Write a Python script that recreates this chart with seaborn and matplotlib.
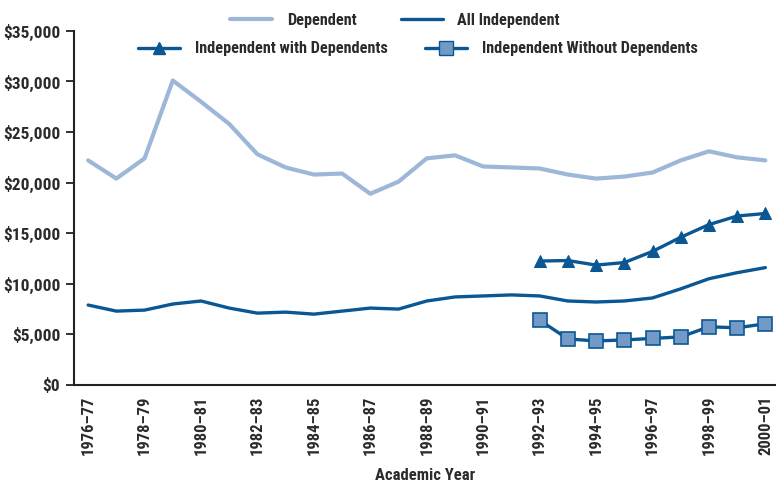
import pandas as pd
import numpy as np
import matplotlib.pyplot as plt
import matplotlib.font_manager as fm
import seaborn as sns
from matplotlib.lines import Line2D
from matplotlib.ticker import FuncFormatter, FixedLocator

# academic years on the x axis
years = ["1976–77", "1977–78", "1978–79", "1979–80", "1980–81", "1981–82",
         "1982–83", "1983–84", "1984–85", "1985–86", "1986–87", "1987–88",
         "1988–89", "1989–90", "1990–91", "1991–92", "1992–93", "1993–94",
         "1994–95", "1995–96", "1996–97", "1997–98", "1998–99", "1999–2000",
         "2000–01"]

# values (dollars)
dependent = [22200, 20400, 22400, 30100, 28000, 25800, 22800, 21500, 20800,
             20900, 18900, 20100, 22400, 22700, 21600, 21500, 21400, 20800,
             20400, 20600, 21000, 22200, 23100, 22500, 22200]
all_independent = [7900, 7300, 7400, 8000, 8300, 7600, 7100, 7200, 7000,
                   7300, 7600, 7500, 8300, 8700, 8800, 8900, 8800, 8300,
                   8200, 8300, 8600, 9500, 10500, 11100, 11600]
with_dependents = [12250, 12300, 11850, 12100, 13200, 14600, 15850, 16700, 16950]
without_dependents = [6400, 4550, 4350, 4450, 4600, 4750, 5750, 5650, 6050]

idx = list(range(len(years)))
idx_late = idx[16:]

dark = "#0b5793"
light = "#9db7d8"
sq_fill = "#7399c6"
txt = "#2b2b2b"

sns.set_style("white")

# a narrow face is closest to the original; fall back to Liberation Sans
available = {f.name for f in fm.fontManager.ttflist}
narrow = next((n for n in ["Liberation Sans Narrow", "Roboto Condensed",
                           "DejaVu Sans Condensed", "Open Sans Condensed"]
               if n in available), None)
if narrow:
    plt.rcParams["font.family"] = [narrow, "DejaVu Sans"]
    plt.rcParams["font.weight"] = "bold"
    plt.rcParams["axes.labelweight"] = "bold"
    fs = 12
else:
    plt.rcParams["font.family"] = ["Liberation Sans", "DejaVu Sans"]
    fs = 11
plt.rcParams["text.color"] = txt

fig = plt.figure(figsize=(7.76, 4.83), dpi=100)
ax = fig.add_axes([0.0954, 0.203, 0.904, 0.733])

sns.lineplot(x=idx, y=dependent, ax=ax, color=light, linewidth=3.0,
             solid_capstyle="round", solid_joinstyle="round")
sns.lineplot(x=idx, y=all_independent, ax=ax, color=dark, linewidth=2.4,
             solid_capstyle="round", solid_joinstyle="round")
sns.lineplot(x=idx_late, y=with_dependents, ax=ax, color=dark, linewidth=2.4,
             marker="^", markersize=8.5, markeredgecolor=dark, markerfacecolor=dark)
sns.lineplot(x=idx_late, y=without_dependents, ax=ax, color=dark, linewidth=2.4,
             marker="s", markersize=9.5, markeredgecolor=dark,
             markerfacecolor=sq_fill, markeredgewidth=1.2)

ax.set_ylim(0, 35000)
ax.set_xlim(-0.5, 24.36)
ax.set_yticks(np.arange(0, 35001, 5000))
ax.yaxis.set_major_formatter(FuncFormatter(lambda v, p: f"${v:,.0f}"))

ax.set_xticks(idx[::2])
ax.set_xticklabels(years[::2], rotation=90)
ax.xaxis.set_minor_locator(FixedLocator([i - 0.5 for i in idx]))
ax.tick_params(axis="x", which="major", length=0, pad=8, labelsize=fs, labelcolor=txt)
ax.tick_params(axis="x", which="minor", length=6, width=1.3, color="#222222", direction="out")
ax.tick_params(axis="y", length=6, width=1.3, color="#222222", labelsize=fs + 0.5,
               labelcolor=txt, direction="out", left=True, pad=4)

sns.despine(ax=ax)
for s in ["left", "bottom"]:
    ax.spines[s].set_linewidth(1.5)
    ax.spines[s].set_color("#222222")

ax.set_xlabel("Academic Year", fontsize=fs, labelpad=9, color=txt)
ax.set_ylabel("")

h_dep = Line2D([], [], color=light, linewidth=3.0)
h_all = Line2D([], [], color=dark, linewidth=2.4)
h_with = Line2D([], [], color=dark, linewidth=2.4, marker="^", markersize=8.5)
h_without = Line2D([], [], color=dark, linewidth=2.4, marker="s", markersize=9.5,
                   markerfacecolor=sq_fill, markeredgecolor=dark)

leg_kw = dict(ncol=2, frameon=False, fontsize=fs - 0.3, handlelength=2.6,
              handletextpad=0.9, loc="center")
leg1 = fig.legend([h_dep, h_all], ["Dependent", "All Independent"],
                  bbox_to_anchor=(395 / 776, 1 - 20 / 483), columnspacing=2.7, **leg_kw)
leg2 = fig.legend([h_with, h_without],
                  ["Independent with Dependents", "Independent Without Dependents"],
                  bbox_to_anchor=(418 / 776, 1 - 49 / 483), columnspacing=2.3, **leg_kw)

fig.savefig("out.png", dpi=100)
